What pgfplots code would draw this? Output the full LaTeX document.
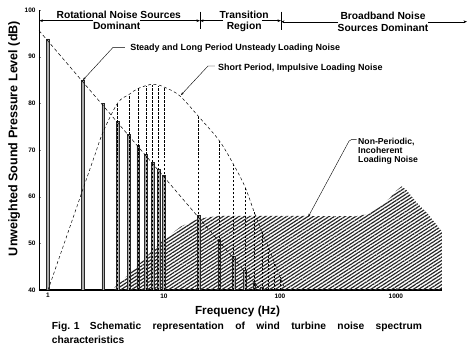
\documentclass[border=0pt]{standalone}
\usepackage{fontspec}
\setmainfont{Liberation Sans}
\usepackage{pgfplots}
\pgfplotsset{compat=1.18}
\usetikzlibrary{patterns.meta,arrows.meta}
\begin{document}
\begin{tikzpicture}
\useasboundingbox (0,0) rectangle (474bp,351bp);
\begin{axis}[
  at={(39bp,61bp)}, anchor=south west,
  scale only axis, width=403bp, height=280bp,
  xmode=log, xmin=0.836, xmax=2500, ymin=40, ymax=100,
  axis x line=bottom, axis y line=left,
  axis line style={-},
  x axis line style={line width=1.3pt},
  y axis line style={line width=0.8pt},
  xtick={1,10,100,1000}, xticklabels={1,10,100,1000},
  xminorticks=false,
  ytick={40,50,...,100},
  tick align=inside, major tick length=2.5pt,
  tick label style={font=\fontsize{6.5}{7.5}\selectfont\bfseries},
  /pgf/number format/assume math mode=true,
  clip mode=individual,
]
% non-periodic incoherent loading noise (hatched)
\addplot[draw=none, pattern={Lines[angle=33,distance=2.9pt,line width=1.2pt]}, pattern color=black!85]
  coordinates {(3.6,40) (4,41.3) (5,43.4) (6,45.3) (8,48.5) (10,50.8) (14,53.6) (20,55.3) (30,55.9)
  (100,55.9) (450,55.8) (550,56.2) (700,57.6) (890,59.7) (1000,61.2) (1120,62.2) (1250,61.3)
  (1500,58.8) (1860,56.5) (2500,52.5) (2500,40)};
% steady / long period unsteady loading noise (solid bars)
\addplot[ybar, bar width=2.7bp, fill=gray!65, draw=black!85, line width=0.45pt]
  coordinates {(1,93.8) (2,85) (3,80) (4,76.2) (5,73.3) (6,71) (7,69) (8,67.3) (9,65.8) (10,64.5)
  (20,56) (30,50.8) (40,47.2) (50,44.3) (60,41.5) (70,40.7)};
% short period impulsive loading noise (dashed verticals)
\addplot[ycomb, black, line width=0.8pt, dash pattern=on 2.5pt off 1.5pt]
  coordinates {(4,80.1) (5,81.8) (6,83.3) (7,83.7) (8,84) (9,83.8) (10,83.5) (20,77.1) (30,72)
  (40,66.8) (50,62.1) (60,56.7) (70,52.4) (80,49) (90,45.8) (100,42.8)};
% envelope of the impulsive noise
\addplot[black, line width=0.5pt, dash pattern=on 3pt off 2.5pt, smooth, tension=0.55]
  coordinates {(1,40) (1.5,52.6) (2,61.6) (2.5,68.5) (3,74) (4,80.1) (5,81.9) (6,83.2) (8,84.1)
  (10,83.5) (13.7,81.6) (20,77.1) (30,72) (40,66.8) (50,62.1) (60,56.7) (70,52.4) (80,49)
  (90,45.8) (100,42.8) (112,40)};
% envelope of the steady loading noise
\addplot[black, line width=0.5pt, dash pattern=on 3.5pt off 2.5pt]
  coordinates {(0.836,95.6) (68,40)};

% region labels
\tikzset{lab/.style={font=\fontsize{10.3}{12}\selectfont\bfseries, inner sep=0pt, anchor=base},
         arr/.style={line width=0.4pt, -{Stealth[length=3.5pt,width=2.6pt]}}}
\node[lab] at (rel axis cs:0.198,0.9679) {Rotational Noise Sources};
\node[lab] at (rel axis cs:0.1928,0.9286) {Dominant};
\node[lab] at (rel axis cs:0.5092,0.9679) {Transition};
\node[lab] at (rel axis cs:0.5092,0.9286) {Region};
\node[lab] at (rel axis cs:0.8536,0.9643) {Broadband Noise};
\node[lab] at (rel axis cs:0.8536,0.9225) {Sources Dominant};
\draw[arr] (rel axis cs:0.134,0.9618) -- (rel axis cs:0.001,0.9618);
\draw[arr] (rel axis cs:0.2506,0.9618) -- (rel axis cs:0.3995,0.9618);
\draw[line width=0.5pt] (rel axis cs:0.3995,0.9946) -- (rel axis cs:0.3995,0.9311);
\draw[arr] (rel axis cs:0.4566,0.9618) -- (rel axis cs:0.3995,0.9618);
\draw[arr] (rel axis cs:0.5533,0.9618) -- (rel axis cs:0.6005,0.9618);
\draw[line width=0.5pt] (rel axis cs:0.6005,0.9946) -- (rel axis cs:0.6005,0.9286);
\draw[arr] (rel axis cs:0.742,0.9582) -- (rel axis cs:0.6005,0.9582);
\draw[arr] (rel axis cs:0.9653,0.9582) -- (rel axis cs:1.062,0.9582);

% annotations
\tikzset{ann/.style={font=\fontsize{9}{10}\selectfont\bfseries, inner sep=0pt, anchor=base west},
         ann3/.style={font=\fontsize{8.7}{9.5}\selectfont\bfseries, inner sep=0pt, anchor=base west},
         lead/.style={line width=0.4pt, -{Stealth[length=3pt,width=2.2pt]}}}
\node[ann] at (rel axis cs:0.226,0.8546) {Steady and Long Period Unsteady Loading Noise};
\draw[lead] (rel axis cs:0.2134,0.8664) -- (rel axis cs:0.1836,0.8664) -- (rel axis cs:0.1092,0.75);
\node[ann] at (rel axis cs:0.444,0.7857) {Short Period, Impulsive Loading Noise};
\draw[lead] (rel axis cs:0.4367,0.8) -- (rel axis cs:0.4194,0.8) -- (rel axis cs:0.3524,0.6964);
\node[ann3] at (rel axis cs:0.7916,0.5214) {Non-Periodic,};
\node[ann3] at (rel axis cs:0.7916,0.4882) {Incoherent};
\node[ann3] at (rel axis cs:0.7916,0.4561) {Loading Noise};
\draw[lead, rounded corners=2pt] (rel axis cs:0.7883,0.5382) -- (rel axis cs:0.7717,0.5382) -- (rel axis cs:0.6682,0.2618);
\end{axis}
% outer labels
\node[rotate=90, anchor=base, font=\fontsize{12.6}{14}\selectfont\bfseries, inner sep=0pt]
  at (17.3bp,212.5bp) {Unweighted Sound Pressure Level (dB)};
\node[anchor=base, font=\fontsize{11.8}{14}\selectfont\bfseries, inner sep=0pt]
  at (237.5bp,36.6bp) {Frequency (Hz)};
\node[anchor=base west, font=\fontsize{10.3}{12}\selectfont\bfseries, inner sep=0pt]
  at (51.7bp,21.5bp) {\makebox[370bp][s]{\mbox{Fig. 1}\quad Schematic representation of wind turbine noise spectrum}};
\node[anchor=base west, font=\fontsize{10.3}{12}\selectfont\bfseries, inner sep=0pt]
  at (51.7bp,8bp) {characteristics};
\end{tikzpicture}
\end{document}
